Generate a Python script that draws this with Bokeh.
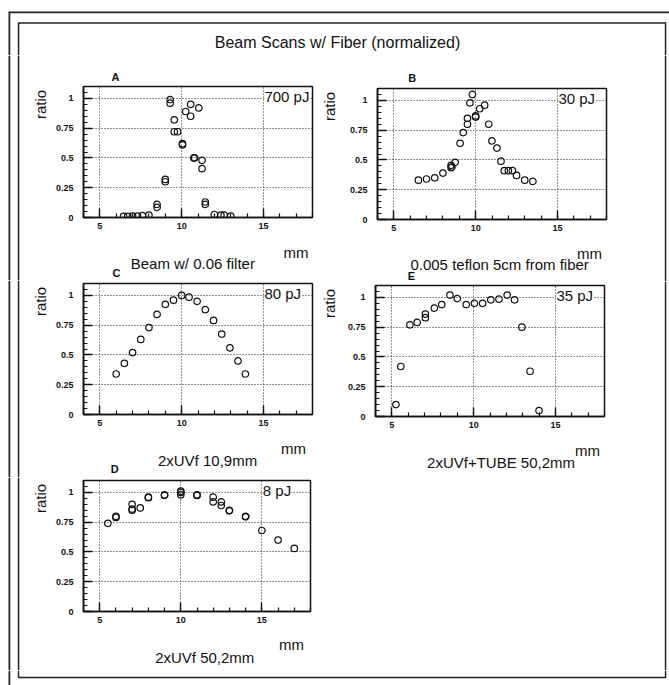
from bokeh.plotting import figure
from bokeh.models import Label, BoxAnnotation, Range1d, SingleIntervalTicker
from bokeh.layouts import column, row
from bokeh.embed import file_html
from bokeh.resources import INLINE
import math

# ------------------------------------------------------------------ data
TITLE = "Beam Scans w/ Fiber (normalized)"
X_TITLE = "mm"
Y_TITLE = "ratio"
X_TICKS = [5, 10, 15]
X_TICK_LABELS = ["5", "10", "15"]
Y_TICKS = [0, 0.25, 0.5, 0.75, 1]
Y_TICK_LABELS = ["0", "0.25", "0.5", "0.75", "1"]
X_RANGE = [4, 18]
Y_RANGE = [0, 1.1]

PANEL_IDS = ["A", "B", "C", "E", "D"]
ENERGIES = ["700 pJ", "30 pJ", "80 pJ", "35 pJ", "8 pJ"]
CAPTIONS = ["Beam w/ 0.06 filter", "0.005 teflon 5cm from fiber",
            "2xUVf 10,9mm", "2xUVf+TUBE 50,2mm", "2xUVf 50,2mm"]

A_X = [6.45, 6.7, 7.0, 7.3, 7.6, 8.0, 8.5, 8.5, 9.0, 9.0, 9.3, 9.3, 9.55, 9.55,
       9.75, 10.05, 10.05, 10.25, 10.55, 10.55, 11.05, 10.75, 10.8, 11.25, 11.25,
       11.45, 11.45, 12.0, 12.4, 12.6, 13.0]
A_Y = [0.01, 0.01, 0.012, 0.012, 0.015, 0.02, 0.11, 0.085, 0.32, 0.30, 0.99, 0.96,
       0.82, 0.72, 0.72, 0.62, 0.61, 0.89, 0.95, 0.85, 0.92, 0.50, 0.50, 0.48, 0.41,
       0.13, 0.11, 0.025, 0.02, 0.02, 0.012]

B_X = [6.5, 7.0, 7.5, 8.0, 8.5, 8.5, 8.55, 8.75, 9.05, 9.25, 9.5, 9.5, 9.65, 9.8,
       10.0, 10.0, 10.25, 10.55, 10.8, 11.0, 11.3, 11.55, 11.75, 12.0, 12.25, 12.5,
       13.0, 13.5]
B_Y = [0.33, 0.34, 0.35, 0.39, 0.455, 0.435, 0.44, 0.48, 0.64, 0.73, 0.80, 0.85,
       0.98, 1.05, 0.87, 0.86, 0.93, 0.96, 0.80, 0.66, 0.60, 0.49, 0.41, 0.41, 0.41,
       0.37, 0.33, 0.32]

C_X = [6.0, 6.5, 7.0, 7.5, 8.0, 8.5, 9.0, 9.5, 10.0, 10.45, 10.95, 11.45, 11.95,
       12.45, 12.95, 13.45, 13.9]
C_Y = [0.34, 0.43, 0.52, 0.63, 0.73, 0.84, 0.925, 0.96, 1.0, 0.985, 0.95, 0.88,
       0.79, 0.675, 0.56, 0.45, 0.34]

E_X = [5.25, 5.55, 6.1, 6.55, 7.05, 7.05, 7.6, 8.05, 8.55, 9.0, 9.55, 10.05, 10.55,
       11.05, 11.55, 12.05, 12.5, 12.95, 13.45, 14.0]
E_Y = [0.10, 0.42, 0.77, 0.79, 0.83, 0.86, 0.91, 0.94, 1.02, 0.99, 0.94, 0.95, 0.95,
       0.98, 0.985, 1.02, 0.98, 0.75, 0.38, 0.05]

D_X = [5.5, 6.0, 6.0, 7.0, 7.0, 7.0, 7.5, 8.0, 8.0, 9.0, 9.0, 10.0, 10.0, 10.0,
       11.0, 11.0, 12.0, 12.0, 12.5, 12.5, 13.0, 13.0, 14.0, 14.0, 15.0, 16.0, 17.0]
D_Y = [0.74, 0.80, 0.79, 0.90, 0.86, 0.85, 0.87, 0.96, 0.955, 0.98, 0.975, 1.0,
       0.98, 1.01, 0.98, 0.975, 0.96, 0.92, 0.92, 0.89, 0.85, 0.845, 0.80, 0.795,
       0.68, 0.60, 0.53]

SERIES = {"A": (A_X, A_Y), "B": (B_X, B_Y), "C": (C_X, C_Y),
          "E": (E_X, E_Y), "D": (D_X, D_Y)}

# ------------------------------------------------------------------ layout (page pixels)
FW, FH = 229, 131
TEXT_POS = {
    "A": dict(letter=(89, 76), ratio=(40, 104), mm=(297, 252), caption=(178, 263)),
    "B": dict(letter=(381, 77), ratio=(329, 106), mm=(590, 253), caption=(484, 264)),
    "C": dict(letter=(90, 272), ratio=(40, 301), mm=(294, 448), caption=(195, 460)),
    "E": dict(letter=(380, 275), ratio=(329, 303), mm=(590, 450), caption=(488, 462)),
    "D": dict(letter=(88, 468), ratio=(40, 498), mm=(294, 644), caption=(193, 657)),
}
TITLE_POS = (337, 42)
FONT = "Liberation Sans"
INK = "#111111"

# page-space rectangles of the scanned frame lines (x0, x1, y0, y1)
SEGMENTS = [
    (8.5, 669, 11.0, 12.8),
    (8.0, 9.8, 11.0, 685),
    (18, 665.5, 21.8, 23.3),
    (17.3, 18.8, 22, 677.5),
    (664.3, 665.8, 22, 677.5),
    (18, 665.5, 676.2, 677.7),
]

TEXT_FIGS = []   # (figure, (x, y, w, h)) whose data coords are page pixels
PANEL_FIGS = {}


def text_fig(x, y, w, h):
    f = figure(width=w, height=h, x_range=Range1d(x, x + w), y_range=Range1d(y + h, y),
               toolbar_location=None, output_backend="svg", x_axis_location=None,
               y_axis_location=None, min_border=0, min_border_left=0, min_border_right=0,
               min_border_top=0, min_border_bottom=0, outline_line_color=None)
    f.grid.visible = False
    TEXT_FIGS.append((f, (x, y, w, h)))
    return f


def panel_fig(key, cx, cy, cw, ch, frame_tl):
    fl, ft = frame_tl
    lb, tb = fl - cx, ft - cy
    rb, bb = cw - lb - FW, ch - tb - FH
    p = figure(width=cw, height=ch, x_range=Range1d(*X_RANGE), y_range=Range1d(*Y_RANGE),
               toolbar_location=None, output_backend="svg",
               min_border_left=lb, min_border_right=rb, min_border_top=tb,
               min_border_bottom=bb)
    p.outline_line_color = INK
    p.outline_line_width = 1.5
    p.outline_line_alpha = 1
    xt = SingleIntervalTicker(interval=5, num_minor_ticks=5)
    yt = SingleIntervalTicker(interval=0.25, num_minor_ticks=5)
    xa, ya = p.xaxis[0], p.yaxis[0]
    xa.ticker = xt
    ya.ticker = yt
    p.xgrid[0].ticker = xt
    p.ygrid[0].ticker = yt
    xa.major_label_overrides = dict(zip(X_TICKS, X_TICK_LABELS))
    ya.major_label_overrides = dict(zip(Y_TICKS, Y_TICK_LABELS))
    for ax in (xa, ya):
        ax.major_tick_in = 9
        ax.major_tick_out = 0
        ax.minor_tick_in = 4
        ax.minor_tick_out = 0
        ax.axis_line_width = 1.6
        ax.axis_line_color = INK
        ax.major_tick_line_color = INK
        ax.minor_tick_line_color = INK
        ax.major_tick_line_width = 1.4
        ax.minor_tick_line_width = 1.2
        ax.major_label_text_font = FONT
        ax.major_label_text_font_size = "9px"
        ax.major_label_text_font_style = "bold"
        ax.major_label_text_color = INK
    xa.major_label_standoff = 5
    ya.major_label_standoff = 10
    for gr in (p.xgrid[0], p.ygrid[0]):
        gr.grid_line_color = INK
        gr.grid_line_dash = "1 2"
        gr.grid_line_width = 1
        gr.grid_line_alpha = 0.9
    xs, ys = SERIES[key]
    p.scatter(xs, ys, marker="circle", size=6.5, fill_color=None, line_color=INK,
              line_width=1.2)
    i = PANEL_IDS.index(key)
    ex = 15 + 1.0 / FW * (X_RANGE[1] - X_RANGE[0])
    ey = Y_RANGE[1] - 10.0 / FH * (Y_RANGE[1] - Y_RANGE[0])
    p.add_layout(Label(x=ex, y=ey, text=ENERGIES[i], text_font=FONT, text_font_size="15px",
                       text_align="left", text_baseline="middle", text_color=INK,
                       background_fill_color="white"))
    PANEL_FIGS[key] = p
    return p


def block(key, xs0, xb0, xb1, xend, y0, top_h, panel_h, bottom_h, frame_tl):
    total = top_h + panel_h + bottom_h
    items = [text_fig(xs0, y0, xb0 - xs0, total)]
    mid = []
    yy = y0
    if top_h:
        mid.append(text_fig(xb0, yy, xb1 - xb0, top_h))
        yy += top_h
    mid.append(panel_fig(key, xb0, yy, xb1 - xb0, panel_h, frame_tl))
    yy += panel_h
    if bottom_h:
        mid.append(text_fig(xb0, yy, xb1 - xb0, bottom_h))
    items.append(column(*mid))
    if xend > xb1:
        items.append(text_fig(xb1, y0, xend - xb1, total))
    return row(*items)


header = text_fig(0, 0, 669, 55)
blk_A = block("A", 0, 52, 316, 316, 55, 28, 153, 44, (83, 86))
blk_C = block("C", 0, 52, 316, 316, 280, 0, 153, 44, (83, 283))
blk_D = block("D", 0, 52, 316, 316, 477, 0, 153, 40, (81, 480))
blk_B = block("B", 316, 340, 610, 669, 55, 28, 155, 43, (377, 88))
blk_E = block("E", 316, 340, 610, 669, 281, 0, 154, 235, (375, 285))
footer = text_fig(0, 670, 669, 15)

# ------------------------------------------------------------------ texts
TEXTS = [(TITLE, TITLE_POS, "16px", "normal", 0)]
for i, key in enumerate(PANEL_IDS):
    tp = TEXT_POS[key]
    TEXTS.append((key, tp["letter"], "11px", "bold", 0))
    TEXTS.append((Y_TITLE, tp["ratio"], "15px", "normal", math.pi / 2))
    TEXTS.append((X_TITLE, tp["mm"], "15px", "normal", 0))
    TEXTS.append((CAPTIONS[i], tp["caption"], "15px", "normal", 0))

for text, (px, py), size, style, ang in TEXTS:
    for f, (x, y, w, h) in TEXT_FIGS:
        if x <= px < x + w and y <= py < y + h:
            f.add_layout(Label(x=px, y=py, text=text, text_font=FONT, text_font_size=size,
                               text_font_style=style, text_align="center",
                               text_baseline="middle", angle=ang, text_color=INK))
            break

# frame lines of the scanned page, cut per text canvas
for f, (x, y, w, h) in TEXT_FIGS:
    for (x0, x1, y0, y1) in SEGMENTS:
        ix0, ix1 = max(x0, x), min(x1, x + w)
        iy0, iy1 = max(y0, y), min(y1, y + h)
        if ix0 < ix1 and iy0 < iy1:
            f.add_layout(BoxAnnotation(left=ix0, right=ix1, bottom=iy1, top=iy0,
                                       fill_color="#222222", fill_alpha=1, line_alpha=0))

layout = column(header,
                row(column(blk_A, blk_C, blk_D), column(blk_B, blk_E)),
                footer)

open("out.html", "w").write(file_html(layout, INLINE))
